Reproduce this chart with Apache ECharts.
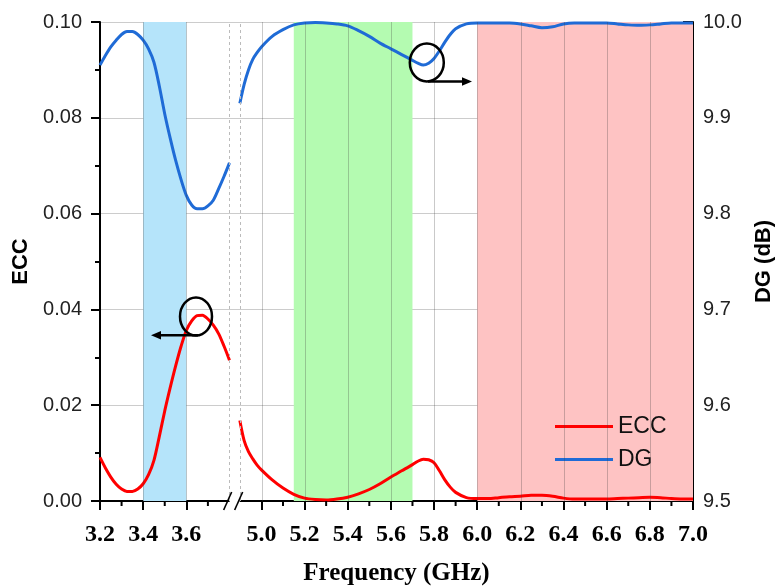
<!DOCTYPE html>
<html>
<head>
<meta charset="utf-8">
<script src="https://cdn.jsdelivr.net/npm/echarts@6/dist/echarts.min.js"></script>
<style>
  html, body { margin: 0; padding: 0; background: #ffffff; }
  #chart { width: 775px; height: 587px; }
</style>
</head>
<body>
<div id="chart"></div>
<script>
// Lower band (3.2 - 3.8 GHz)
const freqLow = [3.200, 3.225, 3.250, 3.275, 3.300, 3.325, 3.350, 3.375, 3.400, 3.425, 3.450, 3.475, 3.500,
                 3.525, 3.550, 3.575, 3.600, 3.625, 3.650, 3.675, 3.700, 3.725, 3.750, 3.775, 3.800];
const eccLow  = [0.0091, 0.0069, 0.0050, 0.0035, 0.0025, 0.0020, 0.0020, 0.0025, 0.0036, 0.0055, 0.0085, 0.0135, 0.0188,
                 0.0236, 0.0281, 0.0322, 0.0356, 0.0376, 0.0387, 0.0388, 0.0380, 0.0367, 0.0349, 0.0323, 0.0294];
const dgLow   = [9.955, 9.965, 9.974, 9.981, 9.987, 9.990, 9.990, 9.987, 9.981, 9.972, 9.958, 9.933, 9.904,
                 9.879, 9.856, 9.836, 9.819, 9.809, 9.805, 9.805, 9.808, 9.814, 9.826, 9.839, 9.853];

// Upper band (4.9 - 7.0 GHz)
const freqHigh = [4.90, 4.92, 4.94, 4.96, 4.98, 5.00, 5.05, 5.10, 5.15, 5.20, 5.25, 5.30, 5.35, 5.40, 5.45, 5.50,
                  5.55, 5.60, 5.65, 5.70, 5.725, 5.75, 5.775, 5.80, 5.825, 5.85, 5.875, 5.90, 5.95, 6.00,
                  6.05, 6.10, 6.15, 6.20, 6.25, 6.30, 6.35, 6.40, 6.45, 6.50, 6.55, 6.60, 6.65, 6.70, 6.75,
                  6.80, 6.85, 6.90, 6.95, 7.00];
const eccHigh  = [0.0168, 0.0126, 0.0103, 0.0088, 0.0075, 0.0065, 0.0044, 0.0027, 0.0014, 0.0006, 0.0003, 0.0002, 0.0004, 0.0008, 0.0015, 0.0024,
                  0.0036, 0.0050, 0.0063, 0.0076, 0.0083, 0.0087, 0.0086, 0.0080, 0.0063, 0.0044, 0.0029, 0.0018, 0.0007, 0.0005,
                  0.0005, 0.0007, 0.0009, 0.0010, 0.0012, 0.0012, 0.0010, 0.0006, 0.0004, 0.0004, 0.0004, 0.0004, 0.0005, 0.0006, 0.0007,
                  0.0008, 0.0007, 0.0005, 0.0004, 0.0004];
const dgHigh   = [9.915, 9.935, 9.950, 9.961, 9.968, 9.974, 9.985, 9.992, 9.997, 9.999, 9.9995, 9.999, 9.998, 9.996, 9.991, 9.985,
                  9.978, 9.972, 9.966, 9.960, 9.957, 9.955, 9.957, 9.962, 9.970, 9.979, 9.987, 9.993, 9.998, 9.999,
                  9.999, 9.999, 9.999, 9.998, 9.996, 9.994, 9.995, 9.998, 9.999, 9.999, 9.999, 9.999, 9.998, 9.997, 9.9965,
                  9.997, 9.998, 9.999, 9.999, 9.999];

// Axis ticks (GHz)
const majorTicks = [3.2, 3.4, 3.6, 5.0, 5.2, 5.4, 5.6, 5.8, 6.0, 6.2, 6.4, 6.6, 6.8, 7.0];
const minorTicks = [3.3, 3.5, 3.7, 5.1, 5.3, 5.5, 5.7, 5.9, 6.1, 6.3, 6.5, 6.7, 6.9];
const gridFreqs  = [3.4, 3.6, 5.0, 5.2, 5.4, 5.6, 5.8, 6.0, 6.2, 6.4, 6.6, 6.8];

// Highlighted frequency bands
const bandRanges = [[3.4, 3.6], [5.15, 5.7], [6.0, 7.0]];
const bandColors = ['#b5e4fa', '#b4fbb1', '#fec3c3'];

// Broken frequency axis: 3.8 -> 4.9 GHz is collapsed into a small gap
const BREAK_START = 3.8, BREAK_END = 4.9, GAP = 0.048;
function toAxis(f) { return f <= BREAK_START + 1e-9 ? f : f - (BREAK_END - BREAK_START) + GAP; }
function fromAxis(t) { return t <= BREAK_START + 1e-9 ? t : t + (BREAK_END - BREAK_START) - GAP; }

function pairs(xs, ys) { return xs.map((f, i) => [toAxis(f), ys[i]]); }

const xMin = toAxis(3.2), xMax = toAxis(7.0);
const serifBold = { fontFamily: 'Liberation Serif', fontWeight: 'bold', color: '#000' };
const RED = '#ff0000', BLUE = '#1f6bd6';

const chart = echarts.init(document.getElementById('chart'), null, { renderer: 'canvas' });

const lineCommon = { type: 'line', smooth: 0.3, symbol: 'none', showSymbol: false, z: 3 };

chart.setOption({
  animation: false,
  backgroundColor: '#ffffff',
  grid: { left: 100, right: 82, top: 22, bottom: 86, outerBoundsMode: 'none', containLabel: false },
  legend: {
    data: ['ECC', 'DG'],
    orient: 'vertical',
    left: 550, top: 410,
    icon: 'rect',
    itemWidth: 58, itemHeight: 3, itemGap: 10,
    textStyle: { fontFamily: 'Liberation Sans', fontSize: 23, color: '#111' }
  },
  xAxis: {
    type: 'value', min: xMin, max: xMax,
    name: 'Frequency (GHz)', nameLocation: 'middle', nameGap: 60,
    nameTextStyle: Object.assign({ fontSize: 25 }, serifBold),
    axisLine: { lineStyle: { color: '#000', width: 2 } },
    axisTick: { length: 9, lineStyle: { color: '#000', width: 2 }, customValues: majorTicks.map(toAxis) },
    axisLabel: {
      margin: 22, fontSize: 24, ...serifBold,
      customValues: majorTicks.map(toAxis),
      formatter: v => fromAxis(v).toFixed(1)
    },
    splitLine: { show: false }
  },
  yAxis: [{
    type: 'value', min: 0, max: 0.1, interval: 0.02,
    name: 'ECC', nameLocation: 'middle', nameGap: 61,
    nameTextStyle: { fontFamily: 'Liberation Sans', fontWeight: 'bold', fontSize: 22, color: '#000' },
    axisLine: { show: true, lineStyle: { color: '#000', width: 2 } },
    axisTick: { length: 9, lineStyle: { color: '#000', width: 2 } },
    minorTick: { show: true, splitNumber: 2, length: 5, lineStyle: { color: '#000', width: 2 } },
    axisLabel: { margin: 18, fontFamily: 'Liberation Sans', fontSize: 20, color: '#222', formatter: v => v.toFixed(2) },
    splitLine: { show: true, lineStyle: { color: 'rgba(0,0,0,0.2)', width: 1 } }
  }, {
    type: 'value', min: 9.5, max: 10.0, interval: 0.1, position: 'right',
    name: 'DG (dB)', nameLocation: 'middle', nameGap: 59,
    nameTextStyle: { fontFamily: 'Liberation Sans', fontWeight: 'bold', fontSize: 22, color: '#000' },
    axisLine: { show: true, lineStyle: { color: '#000', width: 2 } },
    axisTick: { inside: true, length: 10, lineStyle: { color: '#000', width: 2 } },
    minorTick: { show: true, splitNumber: 2, length: 5, lineStyle: { color: '#000', width: 2 } },
    axisLabel: { margin: 10, fontFamily: 'Liberation Sans', fontSize: 20, color: '#222', formatter: v => v.toFixed(1) },
    splitLine: { show: false }
  }],
  series: [
    {
      // shaded frequency bands, drawn under the grid lines
      type: 'line', name: 'bands', data: [], z: -2, silent: true,
      markArea: {
        silent: true,
        data: bandRanges.map((r, i) => [
          { xAxis: toAxis(r[0]), yAxis: 0, itemStyle: { color: bandColors[i] } },
          { xAxis: toAxis(r[1]), yAxis: 0.1 }
        ])
      }
    },
    {
      // vertical grid lines and the dotted break edges
      type: 'line', name: 'vgrid', data: [], z: -1, silent: true,
      markLine: {
        silent: true, symbol: 'none', label: { show: false },
        data: gridFreqs.map(f => ({ xAxis: toAxis(f), lineStyle: { color: 'rgba(60,60,60,0.28)', width: 1, type: 'solid' } }))
          .concat([BREAK_START, BREAK_END].map(f => ({ xAxis: toAxis(f), lineStyle: { color: '#bbbbbb', width: 1, type: [3, 3] } })))
      }
    },
    Object.assign({ name: 'ECC', yAxisIndex: 0, data: pairs(freqLow, eccLow), lineStyle: { color: RED, width: 3 }, itemStyle: { color: RED } }, lineCommon),
    Object.assign({ name: 'ECC', yAxisIndex: 0, data: pairs(freqHigh, eccHigh), lineStyle: { color: RED, width: 3 }, itemStyle: { color: RED } }, lineCommon),
    Object.assign({ name: 'DG', yAxisIndex: 1, data: pairs(freqLow, dgLow), lineStyle: { color: BLUE, width: 3 }, itemStyle: { color: BLUE } }, lineCommon),
    Object.assign({ name: 'DG', yAxisIndex: 1, data: pairs(freqHigh, dgHigh), lineStyle: { color: BLUE, width: 3 }, itemStyle: { color: BLUE } }, lineCommon)
  ]
});

// Minor frequency ticks, the axis break symbol and the annotation circles / arrows
const xb1 = chart.convertToPixel({ xAxisIndex: 0 }, toAxis(BREAK_START));
const xb2 = chart.convertToPixel({ xAxisIndex: 0 }, toAxis(BREAK_END));
const yAxis0 = chart.convertToPixel({ yAxisIndex: 0 }, 0);
const xc = (xb1 + xb2) / 2;

const minorTickMarks = minorTicks.map(f => {
  const x = chart.convertToPixel({ xAxisIndex: 0 }, toAxis(f));
  return { type: 'line', shape: { x1: x, y1: yAxis0, x2: x, y2: yAxis0 + 5 }, style: { stroke: '#000', lineWidth: 2 }, z: 99 };
});

const ink = { stroke: '#000', lineWidth: 2.5, fill: null };
chart.setOption({
  graphic: minorTickMarks.concat([
    { type: 'rect', shape: { x: xc - 5, y: yAxis0 - 3, width: 10, height: 6 }, style: { fill: '#fff' }, z: 100 },
    { type: 'line', shape: { x1: xc - 11, y1: yAxis0 + 9, x2: xc - 3, y2: yAxis0 - 9 }, style: { stroke: '#000', lineWidth: 1.6 }, z: 101 },
    { type: 'line', shape: { x1: xc, y1: yAxis0 + 9, x2: xc + 8, y2: yAxis0 - 9 }, style: { stroke: '#000', lineWidth: 1.6 }, z: 101 },

    { type: 'ellipse', shape: { cx: 196, cy: 316.5, rx: 16, ry: 19 }, style: ink, z: 100 },
    { type: 'line', shape: { x1: 198, y1: 335.3, x2: 158, y2: 335.3 }, style: { stroke: '#000', lineWidth: 2.5 }, z: 100 },
    { type: 'polygon', shape: { points: [[151, 335.3], [161, 331], [161, 339.6]] }, style: { fill: '#000' }, z: 100 },

    { type: 'ellipse', shape: { cx: 426.8, cy: 62.5, rx: 17, ry: 19 }, style: ink, z: 100 },
    { type: 'line', shape: { x1: 428, y1: 81.5, x2: 464, y2: 81.5 }, style: { stroke: '#000', lineWidth: 2.5 }, z: 100 },
    { type: 'polygon', shape: { points: [[472, 81.5], [462, 77.2], [462, 85.8]] }, style: { fill: '#000' }, z: 100 }
  ])
});
</script>
</body>
</html>
